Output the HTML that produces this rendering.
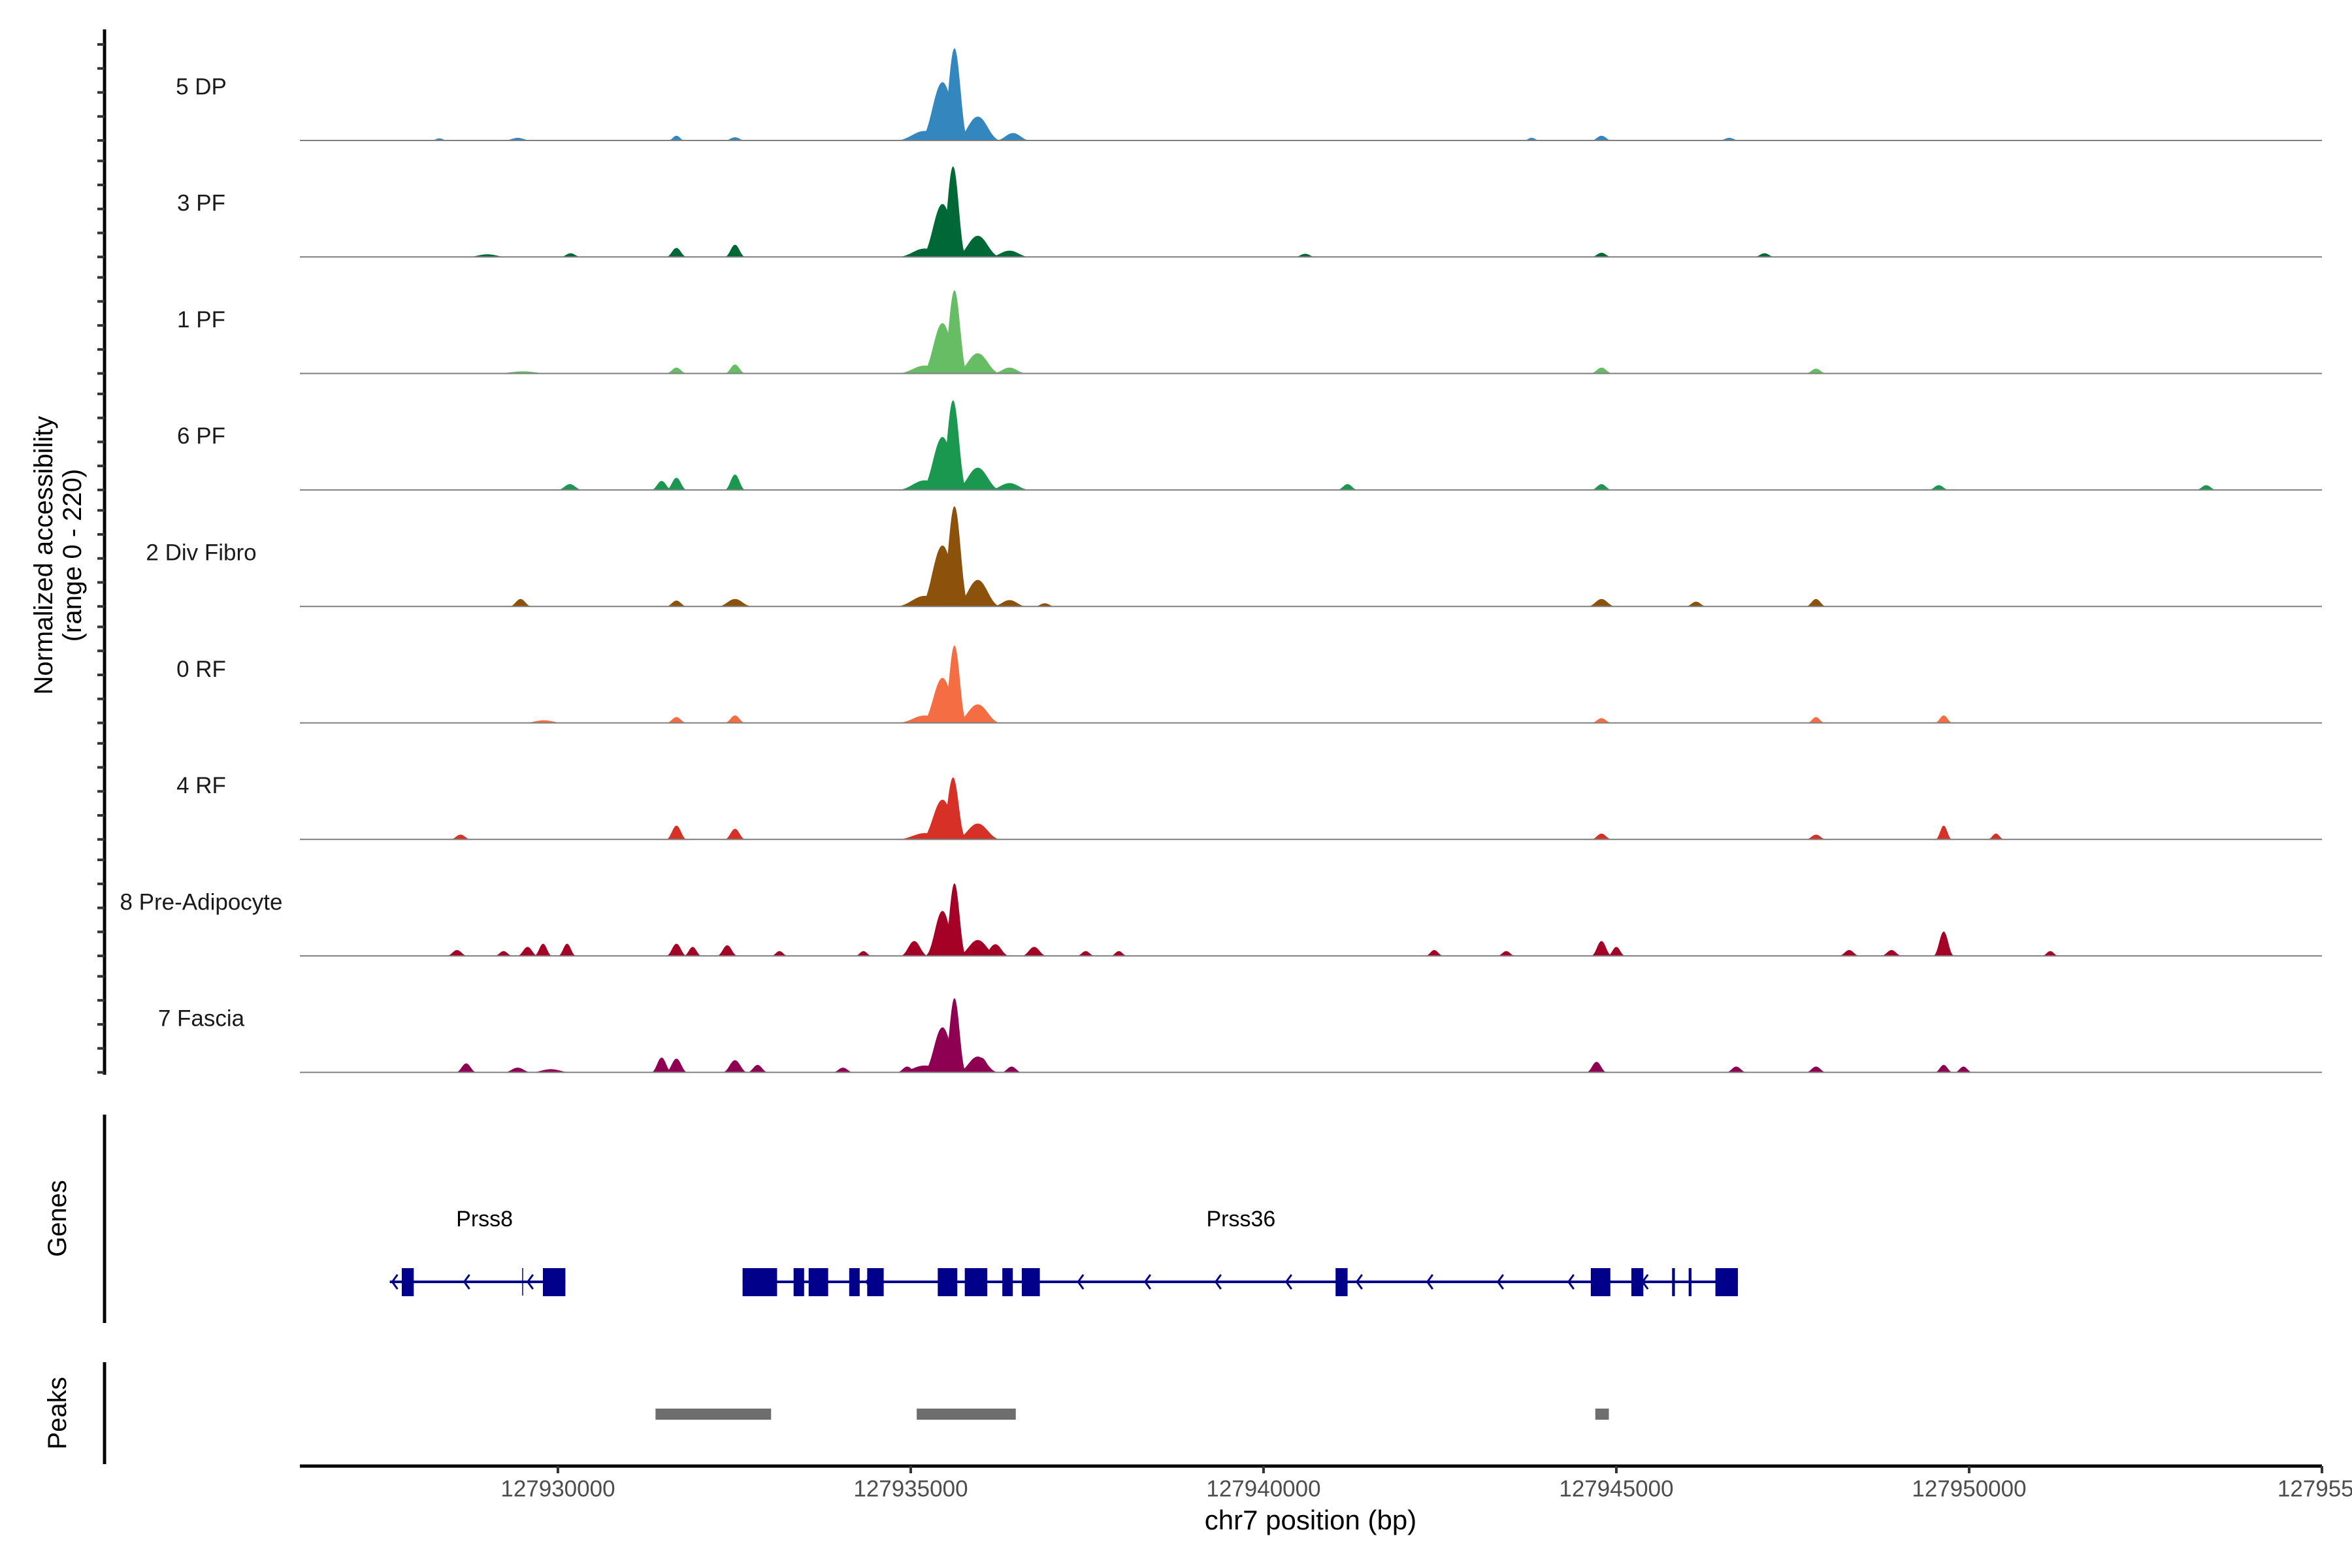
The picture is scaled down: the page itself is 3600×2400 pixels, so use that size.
<!DOCTYPE html>
<html><head><meta charset="utf-8"><style>
html,body{margin:0;padding:0;background:#fff;}
svg{display:block;font-family:"Liberation Sans",sans-serif;}
</style></head><body>
<svg id="chart" width="3600" height="2400" viewBox="0 0 3600 2400" xmlns="http://www.w3.org/2000/svg">
<g id="tracks"></g>
<g id="genes"></g>
<g id="peaks"></g>
<g id="axes"></g>
</svg>
<script>
// ---- data ----
const xDomain = [127926343, 127955000];
const xTicks = [127930000, 127935000, 127940000, 127945000, 127950000, 127955000];
const xTickLabels = ["127930000", "127935000", "127940000", "127945000", "127950000", "1279550"];
const trackNames = ["5 DP","3 PF","1 PF","6 PF","2 Div Fibro","0 RF","4 RF","8 Pre-Adipocyte","7 Fascia"];
const trackColors = ["#3387be","#006837","#66bd63","#1a9850","#8c510a","#f46d43","#d73027","#a50026","#8e0152"];
const yMax = 220;
// bumps: [centre bp, height (normalized), half-width bp]
const track0 = [[127935620,174,200],[127935450,110,330],[127935950,45,330],[127935200,18,420],[127936450,14,250],[127931680,9,120],[127932510,6,150],[127944790,9,150],[127943800,5,120],[127946600,5,150],[127929430,5,200],[127928320,4,120]];
const track1 = [[127935600,171,190],[127935450,100,310],[127935950,40,330],[127935200,16,400],[127936400,12,300],[127931680,17,150],[127932510,23,150],[127930180,7,150],[127944790,8,150],[127940590,6,150],[127947100,7,150],[127929000,5,300]];
const track2 = [[127935620,157,190],[127935450,95,300],[127935950,38,330],[127935200,15,400],[127936400,11,250],[127931680,11,150],[127932510,17,150],[127944790,11,160],[127947830,9,150],[127929500,4,400]];
const track3 = [[127935600,169,200],[127935450,100,310],[127935950,42,330],[127935200,18,400],[127936400,13,300],[127931470,17,150],[127931680,23,150],[127932510,29,150],[127930170,11,180],[127941190,11,150],[127944790,11,150],[127949570,9,150],[127953360,9,150]];
const track4 = [[127935620,189,210],[127935450,115,330],[127935950,50,330],[127935200,20,420],[127936400,12,250],[127929470,14,160],[127931680,11,150],[127932510,14,250],[127944790,14,200],[127947830,14,150],[127946130,9,150],[127936900,6,150]];
const track5 = [[127935620,146,180],[127935450,85,300],[127935950,35,330],[127935200,14,400],[127931680,11,150],[127932510,14,150],[127944790,9,150],[127947830,11,130],[127949640,14,130],[127929800,5,300]];
const track6 = [[127935600,117,190],[127935450,75,310],[127935950,30,330],[127935200,12,400],[127931680,26,150],[127932510,20,150],[127944790,11,150],[127947830,9,150],[127949640,26,120],[127950380,11,120],[127928620,9,150]];
const track7 = [[127935620,137,170],[127935450,85,250],[127935950,30,300],[127935050,28,200],[127936200,22,200],[127936750,17,180],[127928570,11,150],[127929230,9,130],[127929570,17,150],[127929790,23,130],[127930130,23,130],[127931680,23,150],[127931910,17,130],[127932400,20,150],[127933140,9,120],[127934330,9,120],[127937480,9,130],[127937950,9,120],[127942420,11,130],[127943440,9,130],[127944790,28,150],[127945000,17,130],[127948300,11,150],[127948900,11,150],[127949640,46,150],[127951150,9,120]];
const track8 = [[127935620,140,170],[127935450,85,280],[127935950,30,300],[127935200,13,400],[127936000,28,200],[127936430,11,150],[127928700,17,150],[127929430,9,200],[127931470,28,150],[127931680,26,160],[127932510,23,180],[127932830,14,150],[127934040,9,150],[127934950,11,150],[127944720,20,150],[127946700,11,150],[127947830,11,150],[127949640,14,130],[127949920,11,130],[127929900,6,300]];
const tracks = [track0,track1,track2,track3,track4,track5,track6,track7,track8];
const geneNames = ["Prss8","Prss36"];
const geneLabelPos = [127928960, 127939680];
const geneSpans = [[127927617,127930106],[127932617,127946723]];
const exons = [[127927787,127927957],[127929787,127930106],[127932617,127933106],[127933340,127933489],[127933553,127933830],[127934128,127934277],[127934383,127934617],[127935383,127935660],[127935766,127936085],[127936298,127936447],[127936574,127936830],[127941021,127941191],[127944638,127944915],[127945213,127945383],[127945790,127945830],[127946025,127946065],[127946404,127946723]];
const thinMarks = [127929500];
const arrows = [127927680,127928700,127929600,127934400,127937400,127938350,127939350,127940350,127941350,127942350,127943350,127944350,127945400];
const peakRegions = [[127931383,127933021],[127935085,127936489],[127944702,127944894]];

// ---- layout ----
const X0 = 459, X1 = 3554;
const NS = "http://www.w3.org/2000/svg";
function xs(bp){ return X0 + (bp - xDomain[0]) / (xDomain[1] - xDomain[0]) * (X1 - X0); }
const trackH = 178.3, firstBase = 215;
function baseY(i){ return firstBase + i * trackH; }
function ys(v){ return v / yMax * trackH; }
function mk(tag, attrs, parent){ const e = document.createElementNS(NS, tag); for (const k in attrs) e.setAttribute(k, attrs[k]); parent.appendChild(e); return e; }

const gT = document.getElementById('tracks');
tracks.forEach((bumps, i) => {
  const b = baseY(i);
  const g = mk('g', {}, gT);
  
  
  bumps.forEach(bp => {
    const cx = xs(bp[0]), hw = Math.max(4, bp[2] / (xDomain[1] - xDomain[0]) * (X1 - X0)), h = ys(bp[1]);
    const p = mk('path', {d: `M${cx-hw},${b} C${cx-hw*0.55},${b} ${cx-hw*0.35},${b-h} ${cx},${b-h} C${cx+hw*0.35},${b-h} ${cx+hw*0.55},${b} ${cx+hw},${b} Z`, fill: trackColors[i]}, g);
    
    
  });
  const bl = mk('line', {x1: X0, x2: X1, y1: b, y2: b, stroke: '#7f7f7f', 'stroke-width': 2}, g);
  
  
  const t = mk('text', {x: 308, y: b - 80, 'font-size': 35, 'text-anchor': 'middle', 'dominant-baseline': 'middle', fill: '#1a1a1a'}, g);
  t.textContent = trackNames[i];
  
  
});

// genes
const gG = document.getElementById('genes');
const GY = 1962;
geneSpans.forEach(s => {
  const l = mk('line', {x1: xs(s[0]), x2: xs(s[1]), y1: GY, y2: GY, stroke: '#00008b', 'stroke-width': 4}, gG);
  
  
});
exons.forEach(e => {
  const r = mk('rect', {x: xs(e[0]), y: GY - 21, width: Math.max(3, xs(e[1]) - xs(e[0])), height: 43, fill: '#00008b'}, gG);
  
  
});
thinMarks.forEach(m => {
  const l = mk('line', {x1: xs(m), x2: xs(m), y1: GY - 21, y2: GY + 21, stroke: '#00008b', 'stroke-width': 1.5}, gG);
  
  
});
arrows.forEach(a => {
  const x = xs(a);
  const p = mk('path', {d: `M${x+5},${GY-11} L${x-3},${GY} L${x+5},${GY+11}`, fill: 'none', stroke: '#00008b', 'stroke-width': 3}, gG);
  
  
});
geneNames.forEach((n, i) => {
  const t = mk('text', {x: xs(geneLabelPos[i]), y: 1868, 'font-size': 34, 'text-anchor': 'middle', 'dominant-baseline': 'middle', fill: '#000'}, gG);
  t.textContent = n;
  
  
});

// peaks
const gP = document.getElementById('peaks');
peakRegions.forEach(p => {
  const r = mk('rect', {x: xs(p[0]), y: 2156, width: xs(p[1]) - xs(p[0]), height: 17, fill: '#6e6e6e'}, gP);
  
  
});

// axes
const gA = document.getElementById('axes');
let l = mk('line', {x1: 160, x2: 160, y1: 45, y2: 1645, stroke: '#000', 'stroke-width': 5}, gA);


for (let i = 0; i < 9; i++) {
  for (let k = 0; k < 5; k++) {
    const y = baseY(i) - k * 36.75;
    const t = mk('line', {x1: 149, x2: 160, y1: y, y2: y, stroke: '#333', 'stroke-width': 4}, gA);
    
    
  }
}
l = mk('line', {x1: 160, x2: 160, y1: 1706, y2: 2025, stroke: '#000', 'stroke-width': 5}, gA);


l = mk('line', {x1: 160, x2: 160, y1: 2085, y2: 2241, stroke: '#000', 'stroke-width': 5}, gA);


l = mk('line', {x1: X0, x2: X1, y1: 2244, y2: 2244, stroke: '#000', 'stroke-width': 5}, gA);


xTicks.forEach((v, i) => {
  const x = xs(v);
  const t = mk('line', {x1: x, x2: x, y1: 2244, y2: 2255, stroke: '#333', 'stroke-width': 4}, gA);
  
  
  const tx = mk('text', {x: x, y: 2281, 'font-size': 35, 'text-anchor': 'middle', 'dominant-baseline': 'middle', fill: '#4d4d4d'}, gA);
  tx.textContent = xTickLabels[i];
  
  
});
let tt = mk('text', {x: 2006, y: 2330, 'font-size': 42, 'text-anchor': 'middle', 'dominant-baseline': 'middle', fill: '#000'}, gA);
tt.textContent = 'chr7 position (bp)';


const yt = mk('text', {transform: 'translate(80,850) rotate(-90)', 'font-size': 40, 'text-anchor': 'middle', fill: '#000'}, gA);


const s1 = mk('tspan', {x: 0, dy: 0}, yt); s1.textContent = 'Normalized accessibility';
const s2 = mk('tspan', {x: 0, dy: 44}, yt); s2.textContent = '(range 0 - 220)';
tt = mk('text', {transform: 'translate(101,1865) rotate(-90)', 'font-size': 40, 'text-anchor': 'middle', fill: '#000'}, gA);
tt.textContent = 'Genes';


tt = mk('text', {transform: 'translate(101,2163) rotate(-90)', 'font-size': 40, 'text-anchor': 'middle', fill: '#000'}, gA);
tt.textContent = 'Peaks';


</script>
</body></html>
